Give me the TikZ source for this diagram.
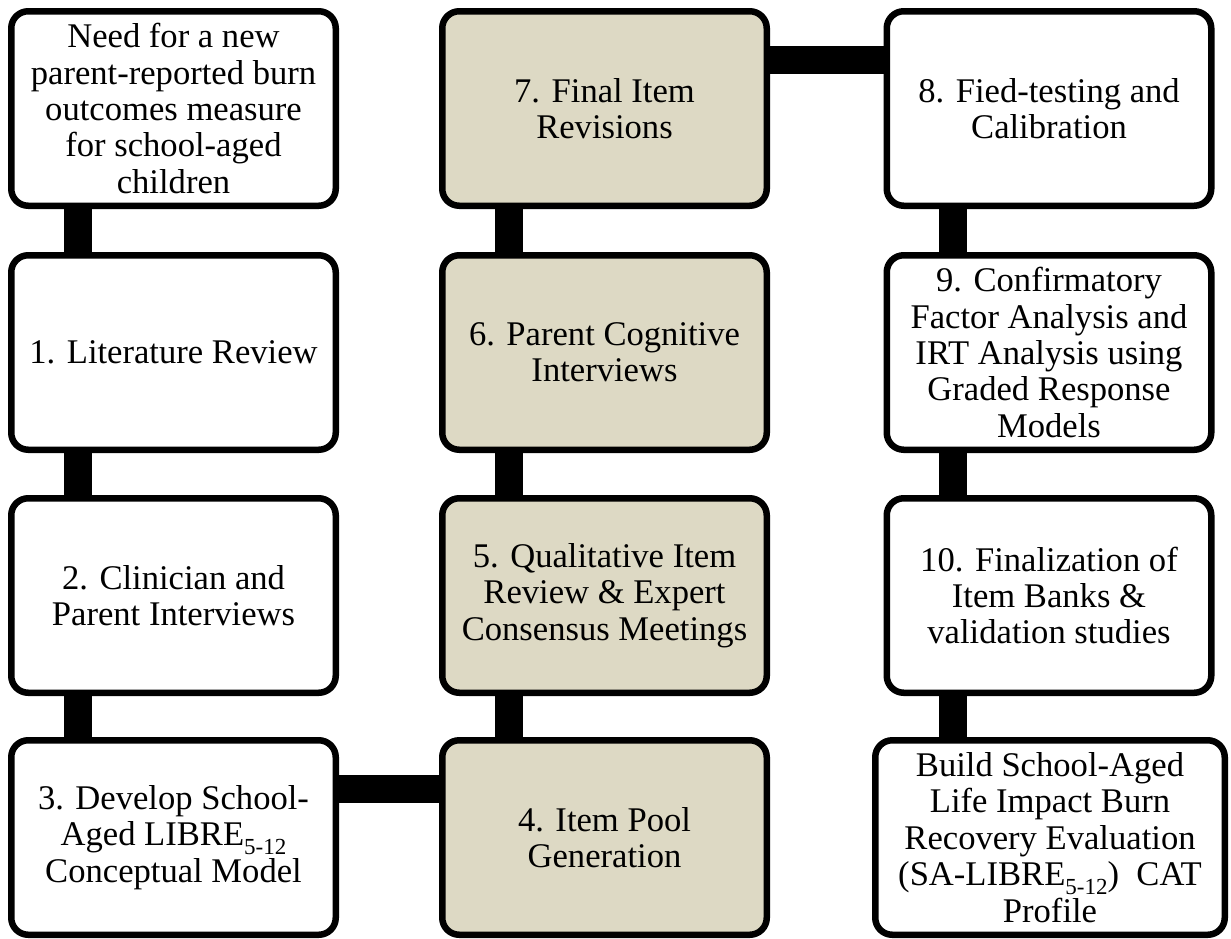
\documentclass[tikz,border=0pt]{standalone}
\usepackage{fontspec}
\setmainfont{Liberation Serif}
\definecolor{tanfill}{RGB}{221,217,196}
\newcommand\lowsub[1]{\raisebox{-0.24em}{\fontsize{23pt}{23pt}\selectfont #1}}
\tikzset{
  box/.style={draw=black, line width=6.5pt, rounded corners=17pt, fill=white,
    minimum width=324.5pt, minimum height=194.5pt, inner sep=0pt, align=center,
    font=\fontsize{34.6pt}{36.4pt}\selectfont, text=black},
  tanbox/.style={box, fill=tanfill},
  conn/.style={line width=28pt, draw=black}
}
\begin{document}
\begin{tikzpicture}[x=1pt,y=-1pt]
\useasboundingbox (0,0) rectangle (1231,938);
% column 1
\node[box] (n0) at (173.5,108.5) {Need for a new\\parent-reported burn\\outcomes measure\\for school-aged\\children};
\node[box] (n1) at (173.5,352.5) {1. Literature Review};
\node[box] (n2) at (173.5,595.5) {2. Clinician and\\Parent Interviews};
\node[box] (n3) at (173.5,837.5) {3. Develop School-\\Aged LIBRE\lowsub{5-12}\\Conceptual Model};
% column 2
\node[tanbox] (n4) at (604.5,837.5) {4. Item Pool\\Generation};
\node[tanbox] (n5) at (604.5,595.5) {5. Qualitative Item\\Review \& Expert\\Consensus Meetings};
\node[tanbox] (n6) at (604.5,352.5) {6. Parent Cognitive\\Interviews};
\node[tanbox] (n7) at (604.5,108.5) {7. Final Item\\Revisions};
% column 3
\node[box] (n8) at (1049,108.5) {8. Fied-testing and\\Calibration};
\node[box] (n9) at (1049,352.5) {9. Confirmatory\\Factor Analysis and\\IRT Analysis using\\Graded Response\\Models};
\node[box] (n10) at (1049,595.5) {10. Finalization of\\Item Banks \&\\validation studies};
\node[box, minimum width=349.5pt] (n11) at (1050,837.5) {Build School-Aged\\Life Impact Burn\\Recovery Evaluation\\(SA-LIBRE\lowsub{5-12})\ \ CAT\\Profile};
% connectors
\draw[conn] ([xshift=-96pt]n0.south) -- ([xshift=-96pt]n1.north);
\draw[conn] ([xshift=-96pt]n1.south) -- ([xshift=-96pt]n2.north);
\draw[conn] ([xshift=-96pt]n2.south) -- ([xshift=-96pt]n3.north);
\draw[conn] ([yshift=48.5pt]n3.east) -- ([yshift=48.5pt]n4.west);
\draw[conn] ([xshift=-96pt]n4.north) -- ([xshift=-96pt]n5.south);
\draw[conn] ([xshift=-96pt]n5.north) -- ([xshift=-96pt]n6.south);
\draw[conn] ([xshift=-96pt]n6.north) -- ([xshift=-96pt]n7.south);
\draw[conn] ([yshift=49pt]n7.east) -- ([yshift=49pt]n8.west);
\draw[conn] ([xshift=-96pt]n8.south) -- ([xshift=-96pt]n9.north);
\draw[conn] ([xshift=-96pt]n9.south) -- ([xshift=-96pt]n10.north);
\draw[conn] ([xshift=-96pt]n10.south) -- ([xshift=-96pt]n10.south |- n11.north);
\end{tikzpicture}
\end{document}
